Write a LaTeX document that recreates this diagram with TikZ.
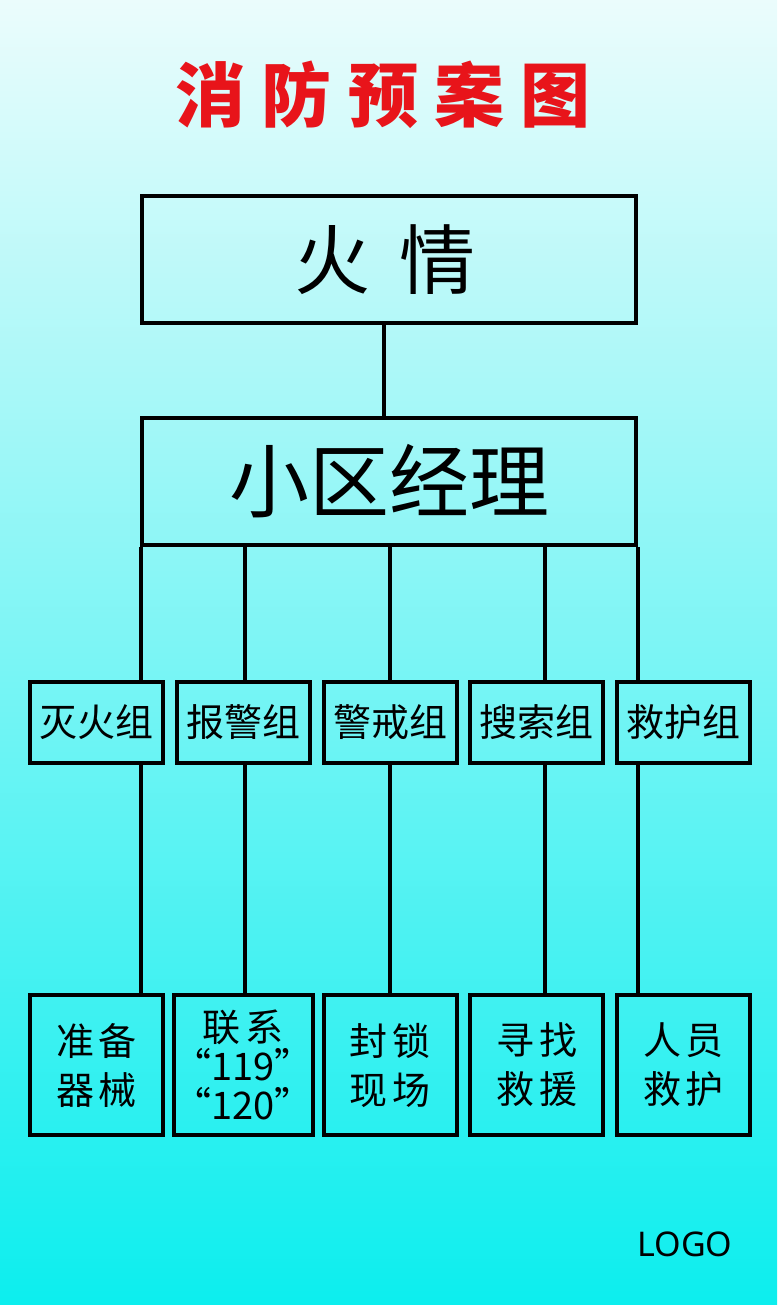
\documentclass[tikz,border=0pt]{standalone}
\usepackage{fontspec}
\setmainfont{Noto Sans CJK SC}
\newfontfamily\logofont{Noto Sans}
\usepackage{xcolor}
\usepackage{tikz}
\usetikzlibrary{positioning}
\usetikzlibrary{calc}

\definecolor{bgtop}{RGB}{235,252,252}
\definecolor{bgmid}{RGB}{115,248,248}
\definecolor{bgbottom}{RGB}{12,238,238}
\definecolor{titlered}{RGB}{232,20,26}

\begin{document}
\begin{tikzpicture}[x=1pt, y=-1pt, on grid, node distance=146.75pt,
    box/.style={draw, line width=4pt, inner sep=0pt, align=center},
    group/.style={box, minimum width=133pt, minimum height=81pt, font=\fontsize{38pt}{46pt}\selectfont},
    task/.style={box, minimum width=133pt, minimum height=140pt, font=\fontsize{38pt}{49pt}\selectfont},
    link/.style={line width=4pt}]
      \useasboundingbox (0,0) rectangle (777,1305);
      \shade[top color=bgtop, middle color=bgmid, bottom color=bgbottom] (0,0) rectangle (777,1305);

      \node[font=\fontsize{70pt}{74pt}\bfseries, text=titlered] (title) at (383,95) {消 防 预 案 图};

      \node[box, minimum width=494pt, minimum height=127pt, font=\fontsize{76pt}{80pt}\selectfont] (fire) at (389,259.5) {火\hspace{30pt}情\hspace{8pt}};
      \node[box, minimum width=494pt, minimum height=127pt, font=\fontsize{80pt}{84pt}\selectfont] (mgr)  at (389,481.5) {小区经理};

      \node[group] (g_1)                 at (96.5,722.5) {灭火组};
      \node[group] (g_2) [right of=g_1]                  {报警组};
      \node[group] (g_3) [right of=g_2]                  {警戒组};
      \node[group] (g_4) [right of=g_3]                  {搜索组};
      \node[group] (g_5) [right of=g_4]                  {救护组};

      \node[task]  (t_1)                 at (96.5,1065)  {准\hspace{5pt}备\\器\hspace{5pt}械};
      \node[task, font=\fontsize{38pt}{39pt}\selectfont]
                   (t_2) [right of=t_1]                  {联\hspace{5pt}系\\“119”\\“120”};
      \node[task]  (t_3) [right of=t_2]                  {封\hspace{5pt}锁\\现\hspace{5pt}场};
      \node[task]  (t_4) [right of=t_3]                  {寻\hspace{5pt}找\\救\hspace{5pt}援};
      \node[task]  (t_5) [right of=t_4]                  {人\hspace{5pt}员\\救\hspace{5pt}护};

      \node[font=\logofont\fontsize{34pt}{36pt}\selectfont] (logo) at (685,1244) {LOGO};

      \coordinate (tap_0) at (383.5,0);
      \draw[link] (fire.south -| tap_0) -- (mgr.north -| tap_0);
      \foreach \i/\x in {1/141, 2/245, 3/390, 4/545, 5/638} {
        \coordinate (tap_\i) at (\x,0);
        \draw[link] (mgr.south -| tap_\i) -- (g_\i.north -| tap_\i);
        \draw[link] (g_\i.south -| tap_\i) -- (t_\i.north -| tap_\i);
      }
    \end{tikzpicture}
\end{document}
